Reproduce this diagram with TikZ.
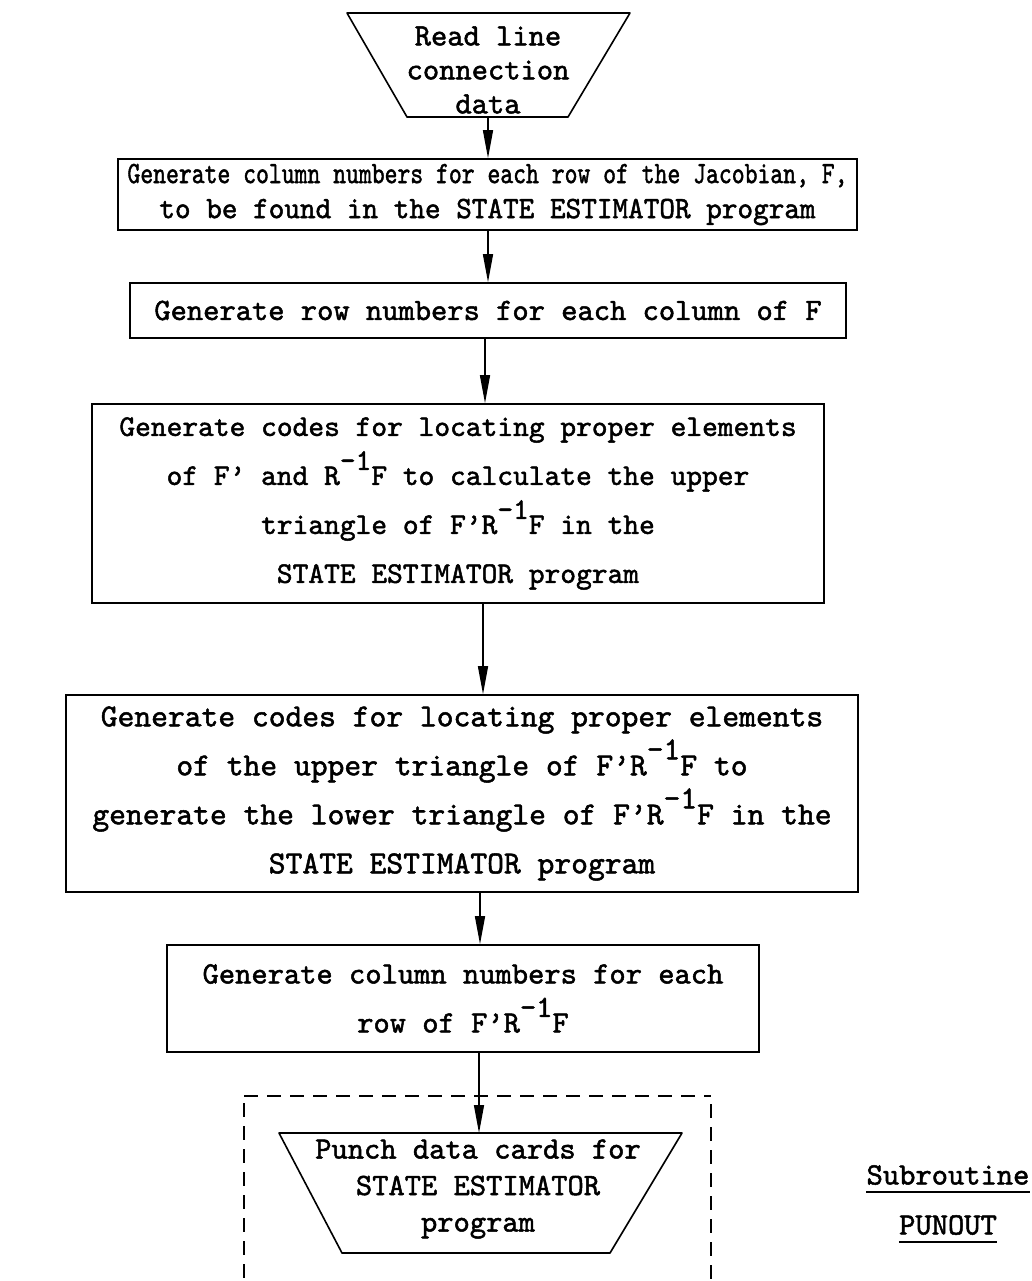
\documentclass[tikz,border=0pt]{standalone}
\usepackage{fontspec}
\setmonofont{lmmono10-regular.otf}[FakeBold=1.6]
\usetikzlibrary{arrows.meta}
\newcommand\inv{\raisebox{0.5em}{-1}}
\newcommand\fs[2]{\ttfamily\fontsize{#1}{#2}\selectfont}
\begin{document}
\begin{tikzpicture}[x=1pt,y=-1pt,
  every node/.style={inner sep=0pt, align=center},
  txt/.style={font=\fs{31}{49}},
  box/.style={draw, line width=1.6pt, txt},
  arr/.style={line width=1.4pt,-{Triangle[length=28pt,width=10pt]}},
  ln/.style={line width=1.6pt, line join=round},
  dsh/.style={line width=1.2pt, dash pattern=on 14pt off 9pt}]
\fill[white] (0,0) rectangle (1032,1281);
\useasboundingbox (0,0) rectangle (1032,1281);

% top trapezium
\draw[ln] (347,13) -- (630,13) -- (568,117) -- (407,117) -- cycle;
\node[font=\fs{31}{34}] (t1) at (488,70) {Read line\\connection\\data};
\coordinate (t1b) at (488,117);

\node[box, minimum width=739pt, minimum height=71pt, font=\fs{31}{35}] (b1) at (487.5,194.5)
  {\scalebox{0.79}[1]{Generate column numbers for each row of the Jacobian, F,}\\
   \scalebox{0.96}[1]{to be found in the STATE ESTIMATOR program}};

\node[box, minimum width=716pt, minimum height=55pt] (b2) at (488,310.5)
  {Generate row numbers for each column of F};

\node[box, minimum width=732pt, minimum height=199pt, font=\fs{30}{49}] (b3) at (458,503.5)
  {Generate codes for locating proper elements\\
   of F’ and R\inv F to calculate the upper\\
   triangle of F’R\inv F in the\\
   STATE ESTIMATOR program};

\node[box, minimum width=792pt, minimum height=197pt, font=\fs{32}{49}] (b4) at (462,793.5)
  {Generate codes for locating proper elements\\
   of the upper triangle of F’R\inv F to\\
   generate the lower triangle of F’R\inv F in the\\
   STATE ESTIMATOR program};

\node[box, minimum width=592pt, minimum height=107pt] (b5) at (463,998.5)
  {Generate column numbers for each\\
   row of F’R\inv F};

% dashed subroutine frame
\coordinate (dtl) at (244,1096);
\coordinate (dtr) at (711,1096);
\draw[dsh] (dtl) -- (dtr);
\draw[dsh] (244,1103) -- (244,1281);
\draw[dsh] (711,1104) -- (711,1281);

% punch trapezium
\draw[ln] (279,1133) -- (682,1133) -- (610,1253) -- (342,1253) -- cycle;
\node[font=\fs{31}{36.5}] (p1) at (478,1189) {Punch data cards for\\STATE ESTIMATOR\\program};
\coordinate (p1t) at (479,1133);

% label
\node[txt] (s1) at (948,1175) {Subroutine};
\node[txt] (s2) at (948,1225) {PUNOUT};
\draw[line width=1.6pt] ([yshift=-7pt]s1.south west) -- ([yshift=-7pt]s1.south east);
\draw[line width=1.6pt] ([yshift=-7pt]s2.south west) -- ([yshift=-7pt]s2.south east);

% connectors
\coordinate (x1) at (488,0);
\coordinate (x2) at (488,0);
\coordinate (x3) at (485,0);
\coordinate (x4) at (483,0);
\coordinate (x5) at (480,0);
\coordinate (x6) at (479,0);
\draw[arr] (t1b) -- (b1.north -| x1);
\draw[arr] (b1.south -| x2) -- (b2.north -| x2);
\draw[arr] (b2.south -| x3) -- (b3.north -| x3);
\draw[arr] (b3.south -| x4) -- (b4.north -| x4);
\draw[arr] (b4.south -| x5) -- (b5.north -| x5);
\draw[arr] (b5.south -| x6) -- (p1t);
\end{tikzpicture}
\end{document}
